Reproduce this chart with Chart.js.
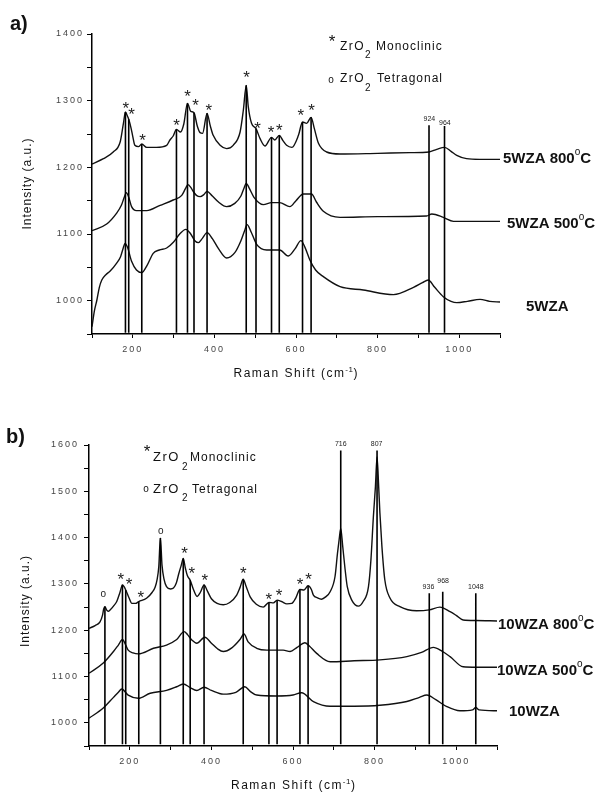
<!DOCTYPE html>
<html>
<head>
<meta charset="utf-8">
<script src="https://cdn.jsdelivr.net/npm/chart.js@4.4.1/dist/chart.umd.min.js"></script>
<style>
  html, body { margin: 0; padding: 0; background: #fff; }
  #wrap { position: relative; width: 600px; height: 792px; }
  canvas { position: absolute; left: 0; }
  #chartA { top: 0; }
  #chartB { top: 396px; }
</style>
</head>
<body>
<div id="wrap">
  <canvas id="chartA" width="600" height="396"></canvas>
  <canvas id="chartB" width="600" height="396"></canvas>
</div>
<script>
/* ── Panel a) 5WZA spectra  [Raman shift, intensity] ── */
var a800 = [[100,1205],[128,1213],[152,1223],[169,1238],[177,1266],[182,1283],[186,1278],[190,1272],[196,1258],[200,1246],[205,1233],[214,1231],[222,1235],[234,1230],[258,1230],[283,1233],[291,1241],[299,1247],[307,1257],[317,1253],[325,1265],[334,1296],[342,1284],[350,1282],[358,1262],[365,1252],[371,1251],[382,1281],[390,1262],[397,1248],[414,1233],[430,1228],[446,1233],[463,1253],[471,1286],[478,1323],[483,1291],[491,1266],[502,1258],[512,1243],[524,1232],[540,1245],[548,1241],[559,1248],[568,1240],[577,1233],[590,1230],[606,1248],[616,1268],[626,1266],[637,1275],[645,1258],[655,1236],[675,1223],[708,1220],[800,1221],[880,1222],[926,1223],[945,1227],[964,1230],[980,1224],[994,1218],[1018,1213],[1050,1212],[1100,1212]];
var a500 = [[100,1105],[136,1115],[160,1131],[172,1143],[179,1155],[184,1162],[190,1155],[197,1141],[209,1135],[234,1135],[267,1143],[299,1151],[320,1158],[329,1168],[335,1174],[342,1170],[348,1164],[356,1158],[365,1156],[374,1159],[382,1164],[395,1157],[410,1148],[430,1141],[450,1146],[465,1157],[472,1168],[478,1176],[486,1168],[497,1155],[520,1144],[540,1147],[560,1147],[585,1141],[600,1150],[618,1160],[638,1160],[650,1148],[667,1134],[708,1125],[800,1126],[920,1127],[933,1130],[961,1125],[986,1119],[1100,1119]];
var a0 = [[100,961],[106,985],[112,1001],[118,1020],[124,1031],[134,1039],[144,1044],[160,1056],[170,1066],[176,1078],[181,1086],[187,1080],[197,1059],[209,1046],[222,1042],[235,1053],[250,1071],[265,1076],[283,1079],[300,1088],[315,1100],[330,1107],[342,1100],[352,1090],[361,1087],[370,1093],[382,1102],[395,1093],[410,1078],[430,1064],[450,1072],[465,1090],[474,1105],[480,1114],[490,1103],[504,1084],[528,1076],[560,1076],[581,1067],[598,1078],[612,1090],[622,1080],[634,1061],[648,1046],[667,1036],[708,1021],[765,1016],[839,1009],[888,1020],[910,1027],[924,1031],[940,1020],[961,1006],[980,999],[994,997],[1020,999],[1051,1002],[1075,999],[1100,998]];

var aStickPos = [182,190,222,307,334,350,382,478,502,540,559,616,637,926,964];
var aStickTop = [1283,1272,1235,1257,1296,1282,1281,1323,1258,1245,1248,1268,1275,1263,1262];
var aStickBase = 952;

var aMarkSym = ['*','*','*','*','*','*','*','*','*','*','*','*','*'];
var aMarkX = [183,197,224,307,334,354,386,479,506,539,559,612,638];
var aMarkY = [1293,1284,1246,1268,1311,1298,1291,1340,1263,1257,1261,1283,1290];

var aNumText = ['924','964'];
var aNumX = [927,965];
var aNumY = [1273,1267];

/* ── Panel b) 10WZA spectra ── */
var b800 = [[100,1204],[115,1210],[127,1218],[133,1232],[136,1246],[139,1251],[143,1244],[147,1241],[152,1244],[160,1252],[168,1262],[176,1282],[182,1298],[186,1294],[190,1287],[198,1270],[205,1258],[214,1258],[222,1262],[241,1269],[255,1282],[262,1293],[267,1310],[271,1337],[275,1399],[279,1340],[284,1310],[290,1294],[300,1289],[307,1291],[314,1302],[320,1322],[326,1340],[331,1355],[336,1335],[341,1318],[348,1308],[356,1288],[365,1273],[373,1282],[382,1298],[390,1285],[400,1268],[414,1258],[429,1255],[445,1260],[462,1276],[470,1292],[478,1310],[485,1295],[495,1272],[510,1256],[527,1250],[541,1260],[552,1259],[561,1265],[572,1262],[585,1257],[597,1258],[607,1270],[617,1288],[627,1287],[637,1296],[645,1288],[650,1276],[660,1270],[670,1267],[680,1272],[691,1283],[703,1316],[709,1366],[713,1395],[717,1420],[722,1380],[727,1337],[733,1294],[744,1265],[760,1252],[772,1262],[785,1294],[791,1352],[797,1445],[802,1510],[806,1574],[810,1510],[813,1453],[818,1380],[825,1309],[838,1269],[862,1251],[903,1242],[934,1244],[960,1250],[985,1240],[1000,1232],[1017,1222],[1048,1221],[1100,1220]];
var b500 = [[100,1107],[135,1129],[160,1154],[172,1168],[182,1180],[190,1168],[196,1157],[208,1151],[221,1149],[258,1161],[290,1168],[315,1180],[333,1197],[342,1190],[352,1179],[364,1172],[384,1185],[400,1172],[415,1160],[429,1154],[450,1162],[470,1180],[480,1192],[490,1175],[511,1161],[536,1157],[576,1157],[593,1154],[610,1163],[629,1173],[640,1166],[658,1150],[691,1132],[750,1134],[813,1136],[879,1143],[915,1152],[944,1163],[965,1155],[985,1143],[1017,1121],[1050,1120],[1100,1120]];
var b0 = [[100,1010],[135,1032],[160,1055],[172,1066],[180,1073],[196,1060],[221,1053],[250,1064],[290,1070],[315,1078],[331,1084],[348,1076],[364,1070],[382,1077],[400,1070],[429,1062],[460,1066],[482,1078],[495,1068],[511,1060],[560,1058],[600,1060],[621,1065],[650,1046],[691,1036],[750,1036],[813,1038],[879,1046],[910,1055],[928,1060],[950,1050],[977,1035],[1009,1026],[1040,1028],[1048,1033],[1056,1028],[1100,1026]];

var bStickPos = [139,182,190,222,275,331,348,382,478,541,561,617,637,717,806,934,967,1048];
var bStickTop = [1251,1298,1287,1262,1399,1355,1308,1298,1310,1260,1265,1288,1296,1588,1588,1280,1283,1280];
var bStickBase = 954;

var bMarkSym = ['o','*','*','*','o','*','*','*','*','*','*','*','*'];
var bMarkX = [135,178,198,227,276,334,352,384,478,541,566,617,638];
var bMarkY = [1278,1317,1306,1278,1415,1373,1330,1314,1330,1273,1283,1306,1317];

var bNumText = ['716','807','936','968','1048'];
var bNumX = [717,805,932,968,1048];
var bNumY = [1604,1604,1294,1307,1294];

var xTicksStep = 100;
var yTicksStep = 50;

(function () {
  'use strict';

  var FAM = "'Liberation Sans', Arial, sans-serif";
  Chart.defaults.font.family = FAM;
  Chart.defaults.color = '#333';

  function pts(arr) { return arr.map(function (p) { return { x: p[0], y: p[1] }; }); }

  function stickData(pos, tops, base) {
    var out = [];
    pos.forEach(function (p, i) {
      out.push({ x: p, y: tops[i] }, { x: p, y: base }, { x: p, y: NaN });
    });
    return out;
  }

  function f(size, bold) { return (bold ? 'bold ' : '') + size + 'px ' + FAM; }

  function runWidth(ctx, parts) {
    var w = 0;
    parts.forEach(function (p) {
      ctx.font = p.font; ctx.letterSpacing = p.ls || '0px';
      w += ctx.measureText(p.t).width;
    });
    return w;
  }
  function drawRun(ctx, x, y, parts) {
    ctx.textAlign = 'left'; ctx.textBaseline = 'alphabetic';
    parts.forEach(function (p) {
      ctx.font = p.font; ctx.letterSpacing = p.ls || '0px';
      ctx.fillText(p.t, x, y + (p.dy || 0));
      x += ctx.measureText(p.t).width;
    });
  }
  function glyphAt(ctx, t, cx, cy, font) {
    ctx.font = font; ctx.letterSpacing = '0px';
    ctx.textAlign = 'center'; ctx.textBaseline = 'alphabetic';
    var m = ctx.measureText(t);
    ctx.fillText(t, cx, cy + (m.actualBoundingBoxAscent - m.actualBoundingBoxDescent) / 2);
  }
  function zro(ctx, x, y, subX, subY, word, wordX, size) {
    drawRun(ctx, x, y, [{ t: 'ZrO', font: f(size), ls: '1.5px' }]);
    drawRun(ctx, subX, subY, [{ t: '2', font: f(10) }]);
    drawRun(ctx, wordX, y, [{ t: word, font: f(12), ls: '1px' }]);
  }
  function degreeLabel(ctx, x, y, main, temp) {
    var parts = [{ t: main, font: f(15, true) }];
    if (temp) {
      parts.push({ t: ' ' + temp, font: f(15, true) },
                 { t: 'o', font: f(10), dy: -8 },
                 { t: 'C', font: f(15, true) });
    }
    drawRun(ctx, x, y, parts);
  }
  function xTitle(ctx, cx, y) {
    var parts = [
      { t: 'Raman Shift (cm', font: f(12), ls: '1.5px' },
      { t: '-1', font: f(8), dy: -5, ls: '0.5px' },
      { t: ')', font: f(12) }
    ];
    drawRun(ctx, cx - runWidth(ctx, parts) / 2, y, parts);
  }
  function yTitle(ctx, cx, cy) {
    ctx.save();
    ctx.translate(cx, cy);
    ctx.rotate(-Math.PI / 2);
    ctx.font = f(12); ctx.letterSpacing = '1px';
    ctx.textAlign = 'center'; ctx.textBaseline = 'middle';
    ctx.fillText('Intensity (a.u.)', 0, 0);
    ctx.restore();
  }

  function makeOverlay(cfg) {
    return {
      id: 'overlay',
      beforeDraw: function (chart) { chart.ctx.letterSpacing = '2px'; },
      afterDraw: function (chart) {
        var ctx = chart.ctx, xs = chart.scales.x, ys = chart.scales.y;
        ctx.save();
        ctx.fillStyle = '#222';
        cfg.sym.forEach(function (s, i) {
          var px = xs.getPixelForValue(cfg.mx[i]), py = ys.getPixelForValue(cfg.my[i]);
          glyphAt(ctx, s, px, py, s === '*' ? f(17) : f(10));
        });
        cfg.num.forEach(function (s, i) {
          var px = xs.getPixelForValue(cfg.nx[i]), py = ys.getPixelForValue(cfg.ny[i]);
          glyphAt(ctx, s, px, py, f(7));
        });
        ctx.fillStyle = '#111';
        cfg.extras(ctx);
        ctx.restore();
      }
    };
  }

  function build(id, series, sticks, yMax, geo, overlay) {
    var sets = [{
      data: stickData(sticks.pos, sticks.top, sticks.base),
      showLine: true, borderColor: '#000', borderWidth: 1.6,
      pointRadius: 0, tension: 0
    }];
    series.forEach(function (s) {
      sets.push({
        data: pts(s), showLine: true, borderColor: '#111', borderWidth: 1.4,
        pointRadius: 0, cubicInterpolationMode: 'monotone'
      });
    });
    return new Chart(document.getElementById(id), {
      type: 'scatter',
      data: { datasets: sets },
      plugins: [makeOverlay(overlay)],
      options: {
        responsive: false, animation: false, events: [],
        layout: { padding: { left: 0, right: geo.right, top: geo.top, bottom: 0 } },
        plugins: { legend: { display: false }, tooltip: { enabled: false } },
        scales: {
          x: {
            type: 'linear', min: 100, max: 1100,
            afterFit: function (s) { s.height = geo.xh; },
            grid: { drawOnChartArea: false, drawTicks: true, tickLength: 4, color: '#000' },
            border: { color: '#000', width: 1.5 },
            ticks: {
              stepSize: xTicksStep, autoSkip: false, maxRotation: 0, padding: 6,
              font: { size: 9 }, color: '#444',
              callback: function (v) { return v % 200 === 0 ? v : ''; }
            }
          },
          y: {
            type: 'linear', min: 950, max: yMax,
            afterFit: function (s) { s.width = geo.yw; },
            grid: { drawOnChartArea: false, drawTicks: true, tickLength: 5, color: '#000' },
            border: { color: '#000', width: 1.5 },
            ticks: {
              stepSize: yTicksStep, autoSkip: false, padding: geo.ypad,
              font: { size: 9 }, color: '#444',
              callback: function (v) { return v % 100 === 0 ? v : ''; }
            }
          }
        }
      }
    });
  }

  /* ── a) ── */
  build('chartA', [a800, a500, a0],
    { pos: aStickPos, top: aStickTop, base: aStickBase }, 1400,
    { right: 100, top: 34, xh: 62, yw: 92, ypad: 3 },
    {
      sym: aMarkSym, mx: aMarkX, my: aMarkY,
      num: aNumText, nx: aNumX, ny: aNumY,
      extras: function (ctx) {
        drawRun(ctx, 10, 30, [{ t: 'a)', font: f(20, true) }]);
        glyphAt(ctx, '*', 332, 38, f(17));
        zro(ctx, 340, 50, 365, 58, 'Monoclinic', 376, 12);
        glyphAt(ctx, 'o', 331, 80, f(10));
        zro(ctx, 340, 82, 365, 90.5, 'Tetragonal', 377, 12);
        degreeLabel(ctx, 503, 162.5, '5WZA', '800');
        degreeLabel(ctx, 507, 227.5, '5WZA', '500');
        degreeLabel(ctx, 526, 310.5, '5WZA');
        xTitle(ctx, 295.5, 377);
        yTitle(ctx, 28, 183.5);
      }
    });

  /* ── b) ── */
  build('chartB', [b800, b500, b0],
    { pos: bStickPos, top: bStickTop, base: bStickBase }, 1600,
    { right: 103, top: 49, xh: 46, yw: 89, ypad: 5 },
    {
      sym: bMarkSym, mx: bMarkX, my: bMarkY,
      num: bNumText, nx: bNumX, ny: bNumY,
      extras: function (ctx) {
        drawRun(ctx, 6, 47, [{ t: 'b)', font: f(20, true) }]);
        glyphAt(ctx, '*', 147, 52.3, f(17));
        zro(ctx, 153, 65, 182, 74, 'Monoclinic', 190, 13);
        glyphAt(ctx, 'o', 146, 93.2, f(10));
        zro(ctx, 153, 96.7, 182, 104.7, 'Tetragonal', 192, 13);
        degreeLabel(ctx, 498, 233, '10WZA', '800');
        degreeLabel(ctx, 497, 279, '10WZA', '500');
        degreeLabel(ctx, 509, 320, '10WZA');
        xTitle(ctx, 293, 393);
        yTitle(ctx, 26, 205);
      }
    });
}());
</script>
</body>
</html>
